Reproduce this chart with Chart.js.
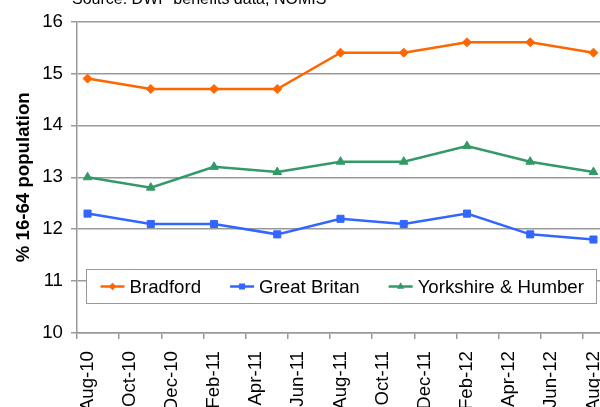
<!DOCTYPE html>
<html><head><meta charset="utf-8">
<script src="https://cdn.jsdelivr.net/npm/chart.js@4/dist/chart.umd.min.js"></script>
<style>
html,body{margin:0;padding:0;overflow:hidden;background:#fff;width:600px;height:407px}
#c{position:absolute;left:0;top:0}
</style></head>
<body><canvas id="c" width="620" height="407"></canvas>
<script>
// ---- data ----
const months = ["Aug-10","Sep-10","Oct-10","Nov-10","Dec-10","Jan-11","Feb-11","Mar-11","Apr-11","May-11","Jun-11","Jul-11",
                "Aug-11","Sep-11","Oct-11","Nov-11","Dec-11","Jan-12","Feb-12","Mar-12","Apr-12","May-12","Jun-12","Jul-12","Aug-12"];
const quarters = ["Aug-10","Nov-10","Feb-11","May-11","Aug-11","Nov-11","Feb-12","May-12","Aug-12"];
const bradford = [14.9,14.7,14.7,14.7,15.4,15.4,15.6,15.6,15.4];
const greatBritan = [12.3,12.1,12.1,11.9,12.2,12.1,12.3,11.9,11.8];
const yorkshireHumber = [13.0,12.8,13.2,13.1,13.3,13.3,13.6,13.3,13.1];
const seriesNames = ["Bradford","Great Britan","Yorkshire & Humber"];
const yTitle = "% 16-64 population";
const sourceText = "Source: DWP benefits data, NOMIS";

// ---- styles ----
const FONT = '"Liberation Sans", Arial, sans-serif';
const FS = 18.67;
const GRAY = '#999999';
const COLORS = ['#FF6600','#3366FF','#339966'];
const STYLES = ['rectRot','rect','triangle'];
const RADII = [4.5,5,5];

function pts(vals){ return quarters.map((q,i)=>({x:q, y:vals[i]})); }
const allSeries = [bradford, greatBritan, yorkshireHumber];

function drawMarker(ctx, style, x, y, r, color){
  ctx.save();
  ctx.fillStyle = color;
  ctx.beginPath();
  if (style === 'rectRot'){
    ctx.moveTo(x-r,y); ctx.lineTo(x,y-r); ctx.lineTo(x+r,y); ctx.lineTo(x,y+r); ctx.closePath();
  } else if (style === 'rect'){
    const s = r*Math.SQRT1_2; ctx.rect(x-s,y-s,2*s,2*s);
  } else {
    ctx.moveTo(x, y-r); ctx.lineTo(x+r*0.866, y+r*0.5); ctx.lineTo(x-r*0.866, y+r*0.5); ctx.closePath();
  }
  ctx.fill();
  ctx.restore();
}

const extras = {
  id:'extras',
  afterDraw(chart){
    const ctx = chart.ctx;
    ctx.save();
    ctx.font = '16px ' + FONT;
    ctx.fillStyle = '#000';
    ctx.textAlign = 'left';
    ctx.textBaseline = 'alphabetic';
    ctx.fillText(sourceText, 72, 3.5);
    // legend box
    const L = 86.5, T = 269.5, R = 596.5, B = 303.5;
    ctx.fillStyle = '#fff';
    ctx.fillRect(L, T, R-L, B-T);
    ctx.strokeStyle = GRAY; ctx.lineWidth = 1;
    ctx.strokeRect(L, T, R-L, B-T);
    ctx.font = FS + 'px ' + FONT;
    ctx.textBaseline = 'middle';
    const y = (T+B)/2;
    let x = L + 14;
    chart.data.datasets.forEach((ds,i)=>{
      ctx.strokeStyle = ds.borderColor; ctx.lineWidth = ds.borderWidth;
      ctx.beginPath(); ctx.moveTo(x, y); ctx.lineTo(x+24, y); ctx.stroke();
      drawMarker(ctx, ds.pointStyle, x+12, y, ds.pointRadius*0.85, ds.borderColor);
      ctx.fillStyle = '#000';
      ctx.fillText(ds.label, x+29, y+1);
      x += 29 + ctx.measureText(ds.label).width + 29;
    });
    ctx.restore();
  }
};

new Chart(document.getElementById('c'), {
  type:'line',
  data:{
    labels: months,
    datasets: allSeries.map((vals,i)=>({
      label: seriesNames[i],
      data: pts(vals),
      borderColor: COLORS[i],
      backgroundColor: COLORS[i],
      pointBackgroundColor: COLORS[i],
      pointBorderColor: COLORS[i],
      pointStyle: STYLES[i],
      pointRadius: RADII[i],
      pointBorderWidth: 1,
      borderWidth: 2.5,
      tension: 0,
      fill: false
    }))
  },
  options:{
    responsive:false,
    devicePixelRatio:1,
    animation:false,
    layout:{padding:{top:21.5, right:16, left:0, bottom:0}},
    plugins:{legend:{display:false}, tooltip:{enabled:false}},
    scales:{
      x:{
        type:'category',
        offset:true,
        grid:{drawOnChartArea:false, drawTicks:true, tickLength:6, offset:true,
              color:(c)=> (c.index % 2 === 0 ? GRAY : 'rgba(0,0,0,0)'), lineWidth:1.5},
        border:{display:true, color:GRAY, width:1.5},
        ticks:{autoSkip:false, maxRotation:90, minRotation:90, padding:12, color:'#000',
               font:{family:FONT, size:FS},
               callback:function(v,i){ return i % 2 === 0 ? this.getLabelForValue(v) : ''; }},
        afterFit:(s)=>{ s.height = 74; s.paddingLeft = 0; s.paddingRight = 0; }
      },
      y:{
        min:10, max:16,
        ticks:{stepSize:1, padding:8, color:'#000', font:{family:FONT, size:FS}},
        grid:{color:GRAY, lineWidth:1.5, tickLength:6, drawTicks:true},
        border:{display:true, color:GRAY, width:1.5},
        title:{display:true, text:yTitle, color:'#000', font:{family:FONT, size:FS, weight:'bold'}, padding:{top:13,bottom:0}},
        afterFit:(s)=>{ s.width = 77; }
      }
    }
  },
  plugins:[extras]
});
</script>
</body></html>
